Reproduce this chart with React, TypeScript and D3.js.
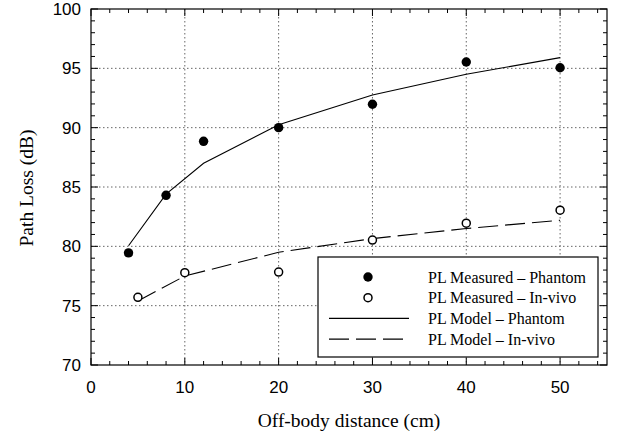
import React, { useEffect, useRef } from 'react';
import * as d3 from 'd3';

// distances (cm)
const phantomDist = [4, 8, 12, 20, 30, 40, 50];
const phantomMeasured = [79.45, 84.3, 88.85, 90.0, 91.97, 95.53, 95.05];
const phantomModel = [80.05, 84.4, 87.0, 90.25, 92.75, 94.5, 95.9];

const invivoDist = [5, 10, 20, 30, 40, 50];
const invivoMeasured = [75.7, 77.78, 77.83, 80.53, 81.95, 83.05];
const invivoModel = [75.4, 77.5, 79.5, 80.65, 81.5, 82.2];

const xTicks = [0, 10, 20, 30, 40, 50];
const yTicks = [70, 75, 80, 85, 90, 95, 100];

const legendItems = [
  { label: 'PL Measured \u2013 Phantom', kind: 'filled' },
  { label: 'PL Measured \u2013 In-vivo', kind: 'open' },
  { label: 'PL Model \u2013 Phantom', kind: 'solid' },
  { label: 'PL Model \u2013 In-vivo', kind: 'dashed' },
];

const W = 621;
const H = 436;
const margin = { top: 9, right: 14, bottom: 71, left: 91 };

const App = () => {
  const svgRef = useRef<SVGSVGElement>(null);

  useEffect(() => {
    const svg = d3.select(svgRef.current);
    svg.selectAll('*').remove();
    const width = W - margin.left - margin.right;
    const height = H - margin.top - margin.bottom;

    const x = d3.scaleLinear().domain([0, 55]).range([0, width]);
    const y = d3.scaleLinear().domain([70, 100]).range([height, 0]);

    const g = svg.append('g').attr('transform', `translate(${margin.left},${margin.top})`);

    // grid
    g.selectAll('.gx')
      .data(xTicks.filter((d) => d > 0))
      .join('line')
      .attr('x1', (d) => x(d))
      .attr('x2', (d) => x(d))
      .attr('y1', 0)
      .attr('y2', height)
      .attr('stroke', '#666')
      .attr('stroke-width', 1)
      .attr('stroke-dasharray', '1.5,2.5');
    g.selectAll('.gy')
      .data(yTicks.filter((d) => d > 70 && d < 100))
      .join('line')
      .attr('x1', 0)
      .attr('x2', width)
      .attr('y1', (d) => y(d))
      .attr('y2', (d) => y(d))
      .attr('stroke', '#666')
      .attr('stroke-width', 1)
      .attr('stroke-dasharray', '1.5,2.5');

    // ticks on all sides, pointing in
    const xMinor = d3.range(0, 55.01, 2);
    const yMinor = d3.range(70, 100.01, 1);
    const tickLen = (major: boolean) => (major ? 7 : 4);
    xMinor.forEach((v) => {
      const len = tickLen(v % 10 === 0);
      g.append('line').attr('x1', x(v)).attr('x2', x(v)).attr('y1', height).attr('y2', height - len).attr('stroke', '#000');
      g.append('line').attr('x1', x(v)).attr('x2', x(v)).attr('y1', 0).attr('y2', len).attr('stroke', '#000');
    });
    yMinor.forEach((v) => {
      const len = tickLen(v % 5 === 0);
      g.append('line').attr('x1', 0).attr('x2', len).attr('y1', y(v)).attr('y2', y(v)).attr('stroke', '#000');
      g.append('line').attr('x1', width).attr('x2', width - len).attr('y1', y(v)).attr('y2', y(v)).attr('stroke', '#000');
    });

    // frame
    g.append('rect')
      .attr('width', width)
      .attr('height', height)
      .attr('fill', 'none')
      .attr('stroke', '#000')
      .attr('stroke-width', 1.2);

    // tick labels
    g.selectAll('.xl')
      .data(xTicks)
      .join('text')
      .attr('x', (d) => x(d))
      .attr('y', height + 28)
      .attr('text-anchor', 'middle')
      .attr('font-family', 'Liberation Sans, Arial, sans-serif')
      .attr('font-size', 17)
      .text((d) => d);
    g.selectAll('.yl')
      .data(yTicks)
      .join('text')
      .attr('x', -10)
      .attr('y', (d) => y(d))
      .attr('dy', '0.36em')
      .attr('text-anchor', 'end')
      .attr('font-family', 'Liberation Sans, Arial, sans-serif')
      .attr('font-size', 17)
      .text((d) => d);

    // axis titles
    svg.append('text')
      .attr('x', margin.left + width / 2)
      .attr('y', 427)
      .attr('text-anchor', 'middle')
      .attr('font-family', 'Liberation Serif, Times New Roman, serif')
      .attr('font-size', 19.5)
      .text('Off-body distance (cm)');
    svg.append('text')
      .attr('transform', `translate(33,188) rotate(-90)`)
      .attr('text-anchor', 'middle')
      .attr('font-family', 'Liberation Serif, Times New Roman, serif')
      .attr('font-size', 19.5)
      .text('Path Loss (dB)');

    // model lines
    const line = d3.line<[number, number]>().x((d) => x(d[0])).y((d) => y(d[1]));
    g.append('path')
      .datum(phantomDist.map((d, i) => [d, phantomModel[i]] as [number, number]))
      .attr('d', line)
      .attr('fill', 'none')
      .attr('stroke', '#000')
      .attr('stroke-width', 1.1);
    g.append('path')
      .datum(invivoDist.map((d, i) => [d, invivoModel[i]] as [number, number]))
      .attr('d', line)
      .attr('fill', 'none')
      .attr('stroke', '#000')
      .attr('stroke-width', 1.1)
      .attr('stroke-dasharray', '20,7');

    // measured points
    g.selectAll('.pf')
      .data(phantomDist)
      .join('circle')
      .attr('cx', (d) => x(d))
      .attr('cy', (d, i) => y(phantomMeasured[i]))
      .attr('r', 4.7)
      .attr('fill', '#000');
    g.selectAll('.po')
      .data(invivoDist)
      .join('circle')
      .attr('cx', (d) => x(d))
      .attr('cy', (d, i) => y(invivoMeasured[i]))
      .attr('r', 4)
      .attr('fill', '#fff')
      .attr('stroke', '#000')
      .attr('stroke-width', 1.5);

    // legend
    const lg = svg.append('g').attr('transform', 'translate(318,257)');
    lg.append('rect')
      .attr('width', 280)
      .attr('height', 100)
      .attr('fill', '#fff')
      .attr('stroke', '#000')
      .attr('stroke-width', 1.2);
    legendItems.forEach((item, i) => {
      const cy = 20 + i * 20.7;
      if (item.kind === 'filled') {
        lg.append('circle').attr('cx', 50).attr('cy', cy).attr('r', 4.7).attr('fill', '#000');
      } else if (item.kind === 'open') {
        lg.append('circle').attr('cx', 50).attr('cy', cy).attr('r', 4).attr('fill', '#fff').attr('stroke', '#000').attr('stroke-width', 1.5);
      } else {
        lg.append('line')
          .attr('x1', 11)
          .attr('x2', 91)
          .attr('y1', cy)
          .attr('y2', cy)
          .attr('stroke', '#000')
          .attr('stroke-width', 1.1)
          .attr('stroke-dasharray', item.kind === 'dashed' ? '20,7' : null);
      }
      lg.append('text')
        .attr('x', 110)
        .attr('y', cy)
        .attr('dy', '0.35em')
        .attr('font-family', 'Liberation Serif, Times New Roman, serif')
        .attr('font-size', 16)
        .text(item.label);
    });
  }, []);

  return (
    <div style={{ position: 'absolute', left: 0, top: 0 }}>
      <svg ref={svgRef} width={W} height={H} style={{ display: 'block', background: '#fff' }}></svg>
    </div>
  );
};

export default App;
